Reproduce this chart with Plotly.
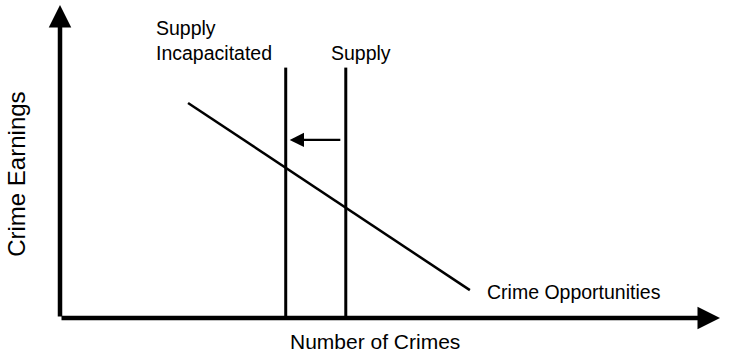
import plotly.graph_objects as go

# diagram values in abstract units (quantity on x, earnings on y)
axis_max = [10, 10]
supply_x = 4.33
supply_incap_x = 3.42
supply_top = 8.0
demand_x = [1.94, 6.21]
demand_y = [6.87, 0.89]
shift_y = 5.69
shift_from = 4.27
shift_to = 3.48

font = "Liberation Sans, Arial, sans-serif"

fig = go.Figure()
fig.add_trace(go.Scatter(x=demand_x, y=demand_y, mode='lines', line=dict(color='black', width=2.5)))
fig.add_trace(go.Scatter(x=[supply_incap_x, supply_incap_x], y=[0, supply_top], mode='lines', line=dict(color='black', width=3)))
fig.add_trace(go.Scatter(x=[supply_x, supply_x], y=[0, supply_top], mode='lines', line=dict(color='black', width=3)))

# axes with arrowheads
fig.add_annotation(x=0, y=axis_max[1], ax=0, ay=0, xref='x', yref='y', axref='x', ayref='y',
                   showarrow=True, arrowhead=2, arrowsize=1, arrowwidth=4.5, arrowcolor='black', text='')
fig.add_annotation(x=axis_max[0], y=0, ax=0, ay=0, xref='x', yref='y', axref='x', ayref='y',
                   showarrow=True, arrowhead=2, arrowsize=1, arrowwidth=4.5, arrowcolor='black', text='')
# supply shift arrow
fig.add_annotation(x=shift_to, y=shift_y, ax=shift_from, ay=shift_y, xref='x', yref='y', axref='x', ayref='y',
                   showarrow=True, arrowhead=2, arrowsize=1.3, arrowwidth=2.2, arrowcolor='black', text='')

small = dict(family=font, size=19.5, color='black')
big = dict(family=font, size=21, color='black')
fig.add_annotation(x=supply_x, y=supply_top, text='Supply', showarrow=False, font=small,
                   xanchor='left', yanchor='bottom', xshift=-17, yshift=2)
fig.add_annotation(x=supply_incap_x, y=supply_top, text='Supply<br>Incapacitated', showarrow=False, font=small,
                   xanchor='right', yanchor='bottom', align='left', xshift=-12, yshift=2)
fig.add_annotation(x=demand_x[1], y=demand_y[1], text='Crime Opportunities', showarrow=False, font=small,
                   xanchor='left', yanchor='middle', xshift=15, yshift=-2)
fig.add_annotation(x=4.77, y=0, text='Number of Crimes', showarrow=False, font=big,
                   xanchor='center', yanchor='top', yshift=-10)
fig.add_annotation(x=-0.067, y=0.46, xref='paper', yref='paper', text='Crime Earnings', showarrow=False,
                   font=dict(family=font, size=24, color='black'), textangle=-90, xanchor='center', yanchor='middle')

fig.update_layout(
    width=741, height=358, showlegend=False,
    paper_bgcolor='white', plot_bgcolor='white',
    margin=dict(l=60, r=21, t=5, b=40, autoexpand=False),
    xaxis=dict(range=[0, axis_max[0]], visible=False),
    yaxis=dict(range=[0, axis_max[1]], visible=False),
)
fig.write_html("out.html", config={'displayModeBar': False}, post_script="document.body.style.margin='0';")
